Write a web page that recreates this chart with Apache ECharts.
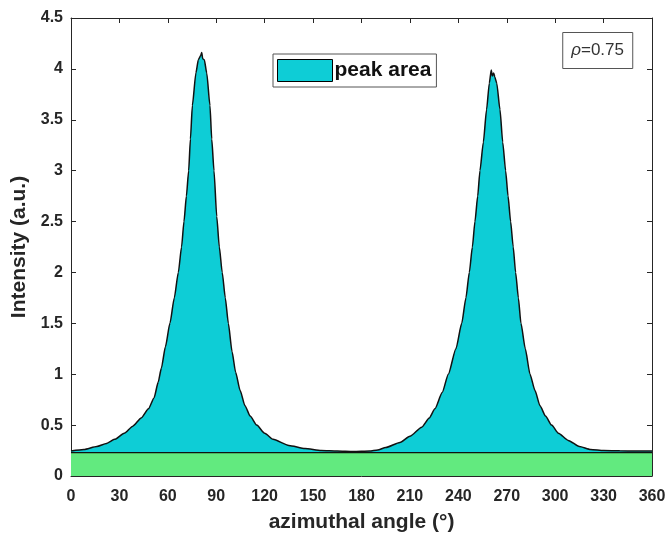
<!DOCTYPE html>
<html>
<head>
<meta charset="utf-8">
<script src="https://cdn.jsdelivr.net/npm/echarts@6/dist/echarts.min.js"></script>
<style>
  html, body { margin: 0; padding: 0; background: #fff; }
  #chart { width: 669px; height: 538px; }
</style>
</head>
<body>
<div id="chart"></div>
<script>
// azimuthal angle (deg) and intensity
var angles = [0, 8, 16, 22, 27, 33, 38.3, 43.5, 48, 51.5, 54, 56, 58.5, 61.3, 64, 66.5, 68.5, 70, 71.5, 72.9,
  74, 75.2, 77.4, 78.9, 80.3, 81, 81.6, 82.6, 84.1, 86.1, 87.2, 88.6, 90.3, 91.9, 93.7, 95.6, 97.5, 99.8, 102,
  104.8, 107.8, 111, 115.1, 120, 125.2, 135, 145, 155, 165, 175, 185, 190, 195, 203.8, 210, 217.3, 222, 225.5,
  230, 233.8, 238.5, 242.1, 244.7, 246.8, 248.7, 250.3, 252, 253.4, 255.5, 257.5, 259.2, 260.4, 261, 261.9,
  262.6, 263.8, 265.8, 267.5, 269.3, 270.8, 272.4, 274, 275.5, 277.2, 278.8, 281.5, 284.4, 287.5, 290.6, 294,
  297.8, 302, 308.1, 315, 322, 330, 340, 350, 360];
var intensity = [0.245, 0.26, 0.29, 0.32, 0.36, 0.42, 0.49, 0.57, 0.66, 0.77, 0.92, 1.06, 1.27, 1.5, 1.75, 2.0, 2.25, 2.5, 2.75, 3.0,
  3.31, 3.64, 3.96, 4.09, 4.13, 4.16, 4.10, 4.09, 3.96, 3.64, 3.31, 3.0, 2.55, 2.25, 2.0, 1.75, 1.5, 1.22, 1.02,
  0.84, 0.69, 0.59, 0.5, 0.42, 0.36, 0.30, 0.27, 0.25, 0.245, 0.24, 0.245, 0.255, 0.28, 0.33, 0.39, 0.48, 0.57, 0.66,
  0.82, 1.0, 1.25, 1.5, 1.75, 2.0, 2.25, 2.5, 2.75, 3.0, 3.28, 3.60, 3.86, 3.99, 3.93, 3.96,
  3.92, 3.86, 3.60, 3.28, 3.0, 2.75, 2.5, 2.25, 2.0, 1.75, 1.5, 1.25, 1.0, 0.84, 0.69, 0.59,
  0.5, 0.42, 0.35, 0.29, 0.26, 0.25, 0.248, 0.245, 0.245];
var baseLevel = 0.23;
var xTicks = [0, 30, 60, 90, 120, 150, 180, 210, 240, 270, 300, 330, 360];
var yTicks = [0, 0.5, 1, 1.5, 2, 2.5, 3, 3.5, 4, 4.5];

var peakData = angles.map(function (a, i) { return [a, intensity[i]]; });
var baseData = [[xTicks[0], baseLevel], [xTicks[xTicks.length - 1], baseLevel]];

var font = 'Liberation Sans, Arial, sans-serif';
var axisCol = '#262626';

var chart = echarts.init(document.getElementById('chart'));

// mirrored axes on top/right, ticks only (matlab box)
function boxAxis(pos, isX) {
  return {
    type: 'value',
    position: pos,
    min: 0,
    max: isX ? 360 : 4.5,
    interval: isX ? 30 : 0.5,
    axisLine: { show: true, onZero: false, lineStyle: { color: axisCol, width: 1 } },
    axisTick: { show: true, inside: true, length: 5, lineStyle: { color: axisCol } },
    axisLabel: { show: false },
    splitLine: { show: false }
  };
}

var option = {
  animation: false,
  backgroundColor: '#fff',
  grid: { left: 71, right: 17, top: 18, bottom: 60 },
  title: {
    text: '{i|ρ}=0.75',
    right: 36,
    top: 32,
    padding: [10, 9, 10, 9],
    borderColor: '#555',
    borderWidth: 1,
    backgroundColor: '#fff',
    textStyle: {
      fontFamily: font, fontSize: 17, fontWeight: 'normal', color: '#333',
      rich: { i: { fontFamily: font, fontSize: 17, fontStyle: 'italic', color: '#333' } }
    }
  },
  legend: {
    left: 273,
    top: 54,
    padding: [5, 5, 5, 4],
    itemWidth: 55,
    itemHeight: 22,
    backgroundColor: '#fff',
    borderColor: '#555',
    borderWidth: 1,
    textStyle: { fontFamily: font, fontSize: 21, fontWeight: 'bold', color: '#111', padding: [0, 0, 0, -3] },
    data: [{ name: 'peak area', icon: 'rect', itemStyle: { color: '#0ecdd6', borderColor: '#000', borderWidth: 1 } }]
  },
  xAxis: [
    {
      type: 'value',
      min: 0,
      max: 360,
      interval: 30,
      name: 'azimuthal angle (°)',
      nameLocation: 'middle',
      nameGap: 36,
      nameTextStyle: { fontFamily: font, fontSize: 21, fontWeight: 'bold', color: axisCol },
      axisLine: { show: true, onZero: false, lineStyle: { color: axisCol, width: 1 } },
      axisTick: { show: true, inside: true, length: 5, lineStyle: { color: axisCol } },
      axisLabel: {
        margin: 13, fontFamily: font, fontSize: 16, fontWeight: 'bold', color: axisCol,
        formatter: function (v) { return xTicks.indexOf(v) >= 0 ? String(v) : ''; }
      },
      splitLine: { show: false }
    },
    boxAxis('top', true)
  ],
  yAxis: [
    {
      type: 'value',
      min: 0,
      max: 4.5,
      interval: 0.5,
      name: 'Intensity (a.u.)',
      nameLocation: 'middle',
      nameGap: 38,
      nameTextStyle: { fontFamily: font, fontSize: 21, fontWeight: 'bold', color: axisCol },
      axisLine: { show: true, onZero: false, lineStyle: { color: axisCol, width: 1 } },
      axisTick: { show: true, inside: true, length: 5, lineStyle: { color: axisCol } },
      axisLabel: {
        margin: 8, fontFamily: font, fontSize: 16, fontWeight: 'bold', color: axisCol,
        formatter: function (v) { return yTicks.indexOf(v) >= 0 ? String(v) : ''; }
      },
      splitLine: { show: false }
    },
    boxAxis('right', false)
  ],
  series: [
    {
      name: 'peak area',
      type: 'line',
      data: peakData,
      smooth: 0.2,
      smoothMonotone: 'x',
      symbol: 'none',
      lineStyle: { color: '#111', width: 1.5 },
      itemStyle: { color: '#0ecdd6', borderColor: '#000' },
      areaStyle: { color: '#0ecdd6', opacity: 1, origin: 'start' },
      z: 2
    },
    {
      name: 'base',
      type: 'line',
      data: baseData,
      symbol: 'none',
      lineStyle: { color: '#111', width: 1.2 },
      areaStyle: { color: '#62ea7f', opacity: 1, origin: 'start' },
      z: 3
    }
  ]
};

chart.setOption(option);
</script>
</body>
</html>
